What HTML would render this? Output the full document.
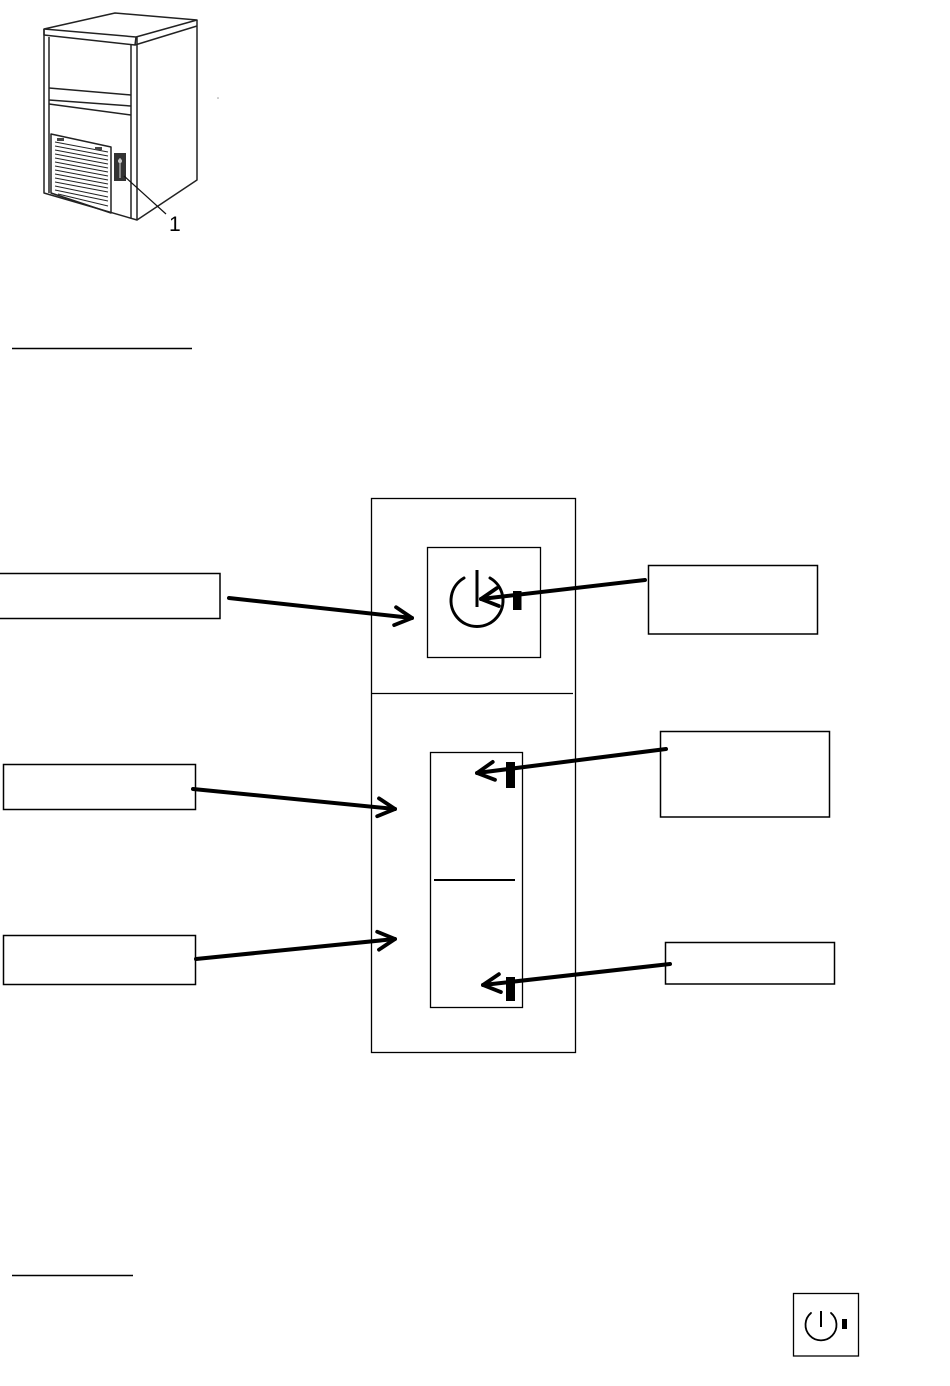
<!DOCTYPE html>
<html>
<head>
<meta charset="utf-8">
<style>
html,body{margin:0;padding:0;background:#fff;}
body{width:950px;height:1386px;overflow:hidden;position:relative;font-family:"Liberation Sans",sans-serif;}
svg{position:absolute;left:0;top:0;}
</style>
</head>
<body>
<svg width="950" height="1386" viewBox="0 0 950 1386" xmlns="http://www.w3.org/2000/svg">
<defs>
<marker id="ah" markerUnits="userSpaceOnUse" markerWidth="24" markerHeight="24" viewBox="0 0 24 24" refX="20" refY="12" orient="auto">
<path d="M3,3 L20,12 L3,21" fill="none" stroke="#000" stroke-width="3.8" stroke-linecap="round" stroke-linejoin="round"/>
</marker>
</defs>

<!-- Ice machine illustration -->
<g fill="none" stroke="#222" stroke-width="1.5" stroke-linejoin="round">
  <path d="M44,29 L115,13 L197,20 L136,37 Z" fill="#fff"/>
  <path d="M44,29 L44,35 L135,45 L136,37"/>
  <path d="M135,45 L197,26"/>
  <path d="M44,29 L44,193 L137,220 L137,37"/>
  <path d="M197,20 L197,180 L137,220"/>
  <path d="M49,37 L49,193"/>
  <path d="M131,45 L131,218"/>
  <path d="M49,88 L131,95"/>
  <path d="M49,100 L131,106"/>
  <path d="M49,104 L131,115"/>
  <path d="M51,134 L111,147 L111,213 L51,193 Z"/>
  <g stroke-width="1">
    <path d="M55,142 L108,152"/>
    <path d="M55,146 L108,156"/>
    <path d="M55,150 L108,160"/>
    <path d="M55,154 L108,164"/>
    <path d="M55,158 L108,168"/>
    <path d="M55,162 L108,172"/>
    <path d="M55,166 L108,176"/>
    <path d="M55,170 L108,180"/>
    <path d="M55,174 L108,184"/>
    <path d="M55,178 L108,188"/>
    <path d="M55,182 L108,192"/>
    <path d="M55,186 L108,197"/>
    <path d="M55,190 L108,201"/>
    <path d="M58,194 L108,206"/>
  </g>
  <rect x="57" y="138" width="7" height="3" fill="#444" stroke="none"/>
  <rect x="95" y="147" width="7" height="3" fill="#444" stroke="none"/>
</g>
<rect x="114" y="153" width="12" height="28" fill="#333"/>
<rect x="119" y="158" width="2" height="20" fill="#888"/>
<circle cx="120" cy="161" r="2" fill="#ccc"/>
<line x1="124" y1="176" x2="166" y2="214" stroke="#111" stroke-width="1.2"/>
<text x="169" y="231" font-family="Liberation Sans, sans-serif" font-size="21" fill="#000">1</text>
<circle cx="218" cy="98" r="0.8" fill="#999"/>

<!-- underlines -->
<line x1="12" y1="348.5" x2="192" y2="348.5" stroke="#000" stroke-width="1.5"/>
<line x1="12" y1="1275.5" x2="133" y2="1275.5" stroke="#000" stroke-width="1.5"/>

<!-- main panel -->
<g fill="none" stroke="#000" stroke-width="1.3">
  <rect x="371.5" y="498.5" width="204" height="554"/>
  <line x1="371" y1="693.5" x2="573" y2="693.5"/>
  <rect x="427.5" y="547.5" width="113" height="110"/>
  <rect x="430.5" y="752.5" width="92" height="255"/>
</g>
<line x1="434" y1="880" x2="515" y2="880" stroke="#000" stroke-width="2"/>

<!-- power icon -->
<path d="M464,578 A26,26 0 1 0 490,578" fill="none" stroke="#000" stroke-width="3" stroke-linecap="round"/>
<line x1="477" y1="570" x2="477" y2="607" stroke="#000" stroke-width="3"/>

<!-- bars -->
<rect x="513" y="591" width="8.5" height="19" fill="#000"/>
<rect x="506" y="762" width="9" height="26" fill="#000"/>
<rect x="506" y="977" width="9" height="24" fill="#000"/>

<!-- label boxes -->
<g fill="none" stroke="#000" stroke-width="1.5">
  <rect x="-2" y="573.5" width="222" height="45"/>
  <rect x="648.5" y="565.5" width="169" height="68.5"/>
  <rect x="660.5" y="731.5" width="169" height="85.5"/>
  <rect x="3.5" y="764.5" width="192" height="45"/>
  <rect x="3.5" y="935.5" width="192" height="49"/>
  <rect x="665.5" y="942.5" width="169" height="41.5"/>
</g>

<!-- arrows -->
<g stroke="#000" stroke-width="4" stroke-linecap="round" fill="none" marker-end="url(#ah)">
  <line x1="229" y1="598" x2="412" y2="618"/>
  <line x1="645" y1="580" x2="481" y2="599"/>
  <line x1="193" y1="789" x2="395" y2="809"/>
  <line x1="196" y1="959" x2="395" y2="939"/>
  <line x1="666" y1="749" x2="477" y2="773"/>
  <line x1="670" y1="964" x2="483" y2="985"/>
</g>

<!-- bottom right icon -->
<rect x="793.5" y="1293.5" width="65" height="62.5" fill="none" stroke="#000" stroke-width="1.3"/>
<path d="M811,1313 A15.5,15.5 0 1 0 831,1313" fill="none" stroke="#000" stroke-width="1.8" stroke-linecap="round"/>
<line x1="821" y1="1311" x2="821" y2="1327" stroke="#000" stroke-width="2"/>
<rect x="842" y="1319" width="5" height="10" fill="#000"/>
</svg>
</body>
</html>
